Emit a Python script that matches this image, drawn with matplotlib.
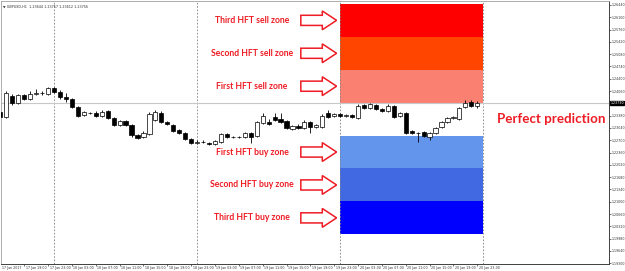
import numpy as np
import matplotlib.pyplot as plt
from matplotlib.patches import Rectangle, Polygon

# H1 candles, hours counted from 18 Jan 2017 00:00
hours = np.arange(-9, 72)
opens = [1.2348, 1.2334, 1.2392, 1.2373, 1.2395, 1.2384, 1.2398, 1.2401, 1.2398,
         1.2415, 1.2404, 1.2390, 1.2384, 1.2362, 1.2340, 1.2346, 1.2346, 1.2337,
         1.2351, 1.2332, 1.2312, 1.2323, 1.2312, 1.2285, 1.2279, 1.2288, 1.2326,
         1.2346, 1.2321, 1.2312, 1.2299, 1.2290, 1.2274, 1.2263, 1.2265, 1.2263,
         1.2260, 1.2265, 1.2288, 1.2279, 1.2280, 1.2279, 1.2290, 1.2282, 1.2318,
         1.2321, 1.2334, 1.2329, 1.2323, 1.2301, 1.2310, 1.2304, 1.2321, 1.2307,
         1.2307, 1.2346, 1.2337, 1.2343, 1.2337, 1.2340, 1.2332, 1.2368, 1.2359,
         1.2368, 1.2357, 1.2351, 1.2365, 1.2337, 1.2346, 1.2296, 1.2290, 1.2293,
         1.2279, 1.2290, 1.2307, 1.2321, 1.2332, 1.2329, 1.2362, 1.2376, 1.2365]
highs = [1.2354, 1.2406, 1.2398, 1.2398, 1.2398, 1.2406, 1.2412, 1.2406, 1.2417,
         1.2417, 1.2409, 1.2401, 1.2387, 1.2365, 1.2351, 1.2348, 1.2351, 1.2354,
         1.2354, 1.2334, 1.2326, 1.2326, 1.2315, 1.2288, 1.2296, 1.2348, 1.2354,
         1.2351, 1.2323, 1.2315, 1.2301, 1.2293, 1.2276, 1.2271, 1.2270, 1.2265,
         1.2271, 1.2290, 1.2290, 1.2283, 1.2282, 1.2293, 1.2293, 1.2323, 1.2346,
         1.2329, 1.2346, 1.2346, 1.2326, 1.2312, 1.2315, 1.2326, 1.2323, 1.2315,
         1.2343, 1.2354, 1.2346, 1.2346, 1.2343, 1.2343, 1.2370, 1.2370, 1.2373,
         1.2370, 1.2359, 1.2370, 1.2368, 1.2348, 1.2348, 1.2299, 1.2293, 1.2296,
         1.2293, 1.2307, 1.2323, 1.2334, 1.2337, 1.2362, 1.2381, 1.2381, 1.2379]
lows = [1.2304, 1.2332, 1.2368, 1.2370, 1.2381, 1.2381, 1.2395, 1.2395, 1.2395,
        1.2401, 1.2384, 1.2376, 1.2359, 1.2334, 1.2337, 1.2343, 1.2334, 1.2334,
        1.2329, 1.2310, 1.2310, 1.2310, 1.2279, 1.2274, 1.2276, 1.2285, 1.2323,
        1.2318, 1.2312, 1.2293, 1.2288, 1.2271, 1.2260, 1.2260, 1.2262, 1.2257,
        1.2257, 1.2263, 1.2276, 1.2276, 1.2277, 1.2276, 1.2263, 1.2279, 1.2315,
        1.2312, 1.2323, 1.2318, 1.2301, 1.2299, 1.2301, 1.2301, 1.2290, 1.2304,
        1.2304, 1.2332, 1.2334, 1.2334, 1.2334, 1.2332, 1.2329, 1.2357, 1.2357,
        1.2354, 1.2348, 1.2348, 1.2332, 1.2334, 1.2288, 1.2288, 1.2265, 1.2279,
        1.2271, 1.2288, 1.2304, 1.2318, 1.2329, 1.2326, 1.2359, 1.2362, 1.2359]
closes = [1.2334, 1.2401, 1.2373, 1.2395, 1.2384, 1.2398, 1.2401, 1.2400, 1.2415,
          1.2404, 1.2390, 1.2384, 1.2362, 1.2337, 1.2348, 1.2345, 1.2337, 1.2348,
          1.2332, 1.2312, 1.2323, 1.2312, 1.2285, 1.2276, 1.2290, 1.2343, 1.2348,
          1.2321, 1.2315, 1.2296, 1.2290, 1.2274, 1.2263, 1.2265, 1.2266, 1.2260,
          1.2268, 1.2288, 1.2279, 1.2280, 1.2279, 1.2290, 1.2279, 1.2321, 1.2337,
          1.2315, 1.2326, 1.2321, 1.2304, 1.2310, 1.2304, 1.2321, 1.2307, 1.2312,
          1.2337, 1.2334, 1.2343, 1.2337, 1.2340, 1.2334, 1.2365, 1.2359, 1.2370,
          1.2357, 1.2351, 1.2365, 1.2334, 1.2346, 1.2290, 1.2290, 1.2291, 1.2282,
          1.2290, 1.2304, 1.2321, 1.2332, 1.2333, 1.2359, 1.2373, 1.2365, 1.2373]

day_starts = [0, 24, 48, 72]

# prediction zones for 20 Jan (price bounds)
zone_names = ["Third HFT sell zone", "Second HFT sell zone", "First HFT sell zone",
              "First HFT buy zone", "Second HFT buy zone", "Third HFT buy zone"]
zone_low = [1.2556, 1.2465, 1.2374, 1.2192, 1.2101, 1.2010]
zone_high = [1.2647, 1.2556, 1.2465, 1.2283, 1.2192, 1.2101]
zone_colors = ["#ff0000", "#ff4500", "#fa8072", "#6495ed", "#4169e1", "#0000ff"]
zone_start, zone_end = 48, 72

price_ticks = [1.2644, 1.2610, 1.2576, 1.2542, 1.2508, 1.2474, 1.2440, 1.2406,
               1.2338, 1.2304, 1.2270, 1.2236, 1.2202, 1.2168, 1.2134, 1.2100,
               1.2066, 1.2032, 1.1998, 1.1964, 1.1930]
time_ticks = [-9, -5, -1, 3, 7, 11, 15, 19, 23, 27, 31, 35, 39, 43, 47, 51, 55, 59, 63, 67, 71]
time_labels = ["17 Jan 2017", "17 Jan 19:00", "17 Jan 23:00", "18 Jan 03:00", "18 Jan 07:00",
               "18 Jan 11:00", "18 Jan 15:00", "18 Jan 19:00", "18 Jan 23:00", "19 Jan 03:00",
               "19 Jan 07:00", "19 Jan 11:00", "19 Jan 15:00", "19 Jan 19:00", "19 Jan 23:00",
               "20 Jan 03:00", "20 Jan 07:00", "20 Jan 11:00", "20 Jan 15:00", "20 Jan 19:00",
               "20 Jan 23:00"]

o = np.array(opens); h = np.array(highs); l = np.array(lows); c = np.array(closes)

fig = plt.figure(figsize=(6.25, 2.71), dpi=100)
ax = fig.add_axes([1 / 625, 7 / 271, 608 / 625, 263 / 271])
ax.set_xlim(-8.9, 93.1)
ax.set_ylim(1.1928, 1.2655)

for i in range(len(zone_names)):
    ax.add_patch(Rectangle((zone_start, zone_low[i]), zone_end - zone_start,
                           zone_high[i] - zone_low[i], color=zone_colors[i], lw=0, zorder=0))

for d in day_starts:
    ax.axvline(d, color="#808080", lw=0.6, ls=(0, (2, 2)), zorder=1)
ax.axhline(c[-1], color="#c8c8c8", lw=0.8, zorder=1)

# candles
ax.vlines(hours, l, h, color="black", lw=0.6, zorder=2)
up = c >= o
ax.bar(hours, np.abs(c - o), bottom=np.minimum(o, c), width=0.7,
       color=np.where(up, "white", "black"), edgecolor="black", lw=0.5, zorder=3)

# zone labels and arrows
red = "#ee1c24"
for i in range(len(zone_names)):
    mid = (zone_low[i] + zone_high[i]) / 2
    ax.text(33.2, mid, zone_names[i], color=red, fontsize=6.2, fontweight="bold",
            family=["Lato", "DejaVu Sans"], ha="center", va="center", zorder=5)
    sh, hh = 0.0014, 0.0026
    pts = [(41.4, mid - sh), (45.0, mid - sh), (45.0, mid - hh), (47.4, mid),
           (45.0, mid + hh), (45.0, mid + sh), (41.4, mid + sh)]
    ax.add_patch(Polygon(pts, closed=True, fc="white", ec=red, lw=1.1, zorder=5))

ax.text(83.4, (zone_low[2] + zone_high[3]) / 2, "Perfect prediction", color=red,
        fontsize=9.6, fontweight="bold", family=["Lato", "DejaVu Sans"],
        ha="center", va="center", zorder=5)

ax.text(0.004, 0.985, "\u25bc GBPUSD,H1  1.23644 1.23757 1.23612 1.23756",
        transform=ax.transAxes, fontsize=2.4, ha="left", va="top", color="#333333")

# axes styling
for s in ["left", "top"]:
    ax.spines[s].set_color("#a0a0a0")
    ax.spines[s].set_linewidth(0.6)
for s in ["right", "bottom"]:
    ax.spines[s].set_color("#404040")
    ax.spines[s].set_linewidth(0.7)

ax.yaxis.tick_right()
ax.set_yticks(price_ticks)
ax.set_yticklabels(["%.5f" % p for p in price_ticks])
ax.tick_params(axis="y", length=1.2, width=0.5, pad=0.6, labelsize=2.3, colors="#333333")

ax.set_xticks([t for t in time_ticks if t > -8.9])
ax.set_xticklabels([])
ax.tick_params(axis="x", length=1.5, width=0.5, colors="#333333")
for t, lab in zip(time_ticks, time_labels):
    ax.text(t + 0.25, -0.008, lab, transform=ax.get_xaxis_transform(), fontsize=2.3,
            ha="left", va="top", color="#333333", clip_on=False)

ax.text(1.002, c[-1], "%.5f" % c[-1], transform=ax.get_yaxis_transform(), fontsize=2.3,
        color="white", ha="left", va="center",
        bbox=dict(boxstyle="square,pad=0.15", fc="black", ec="black"))

fig.savefig("out.png", dpi=100)
